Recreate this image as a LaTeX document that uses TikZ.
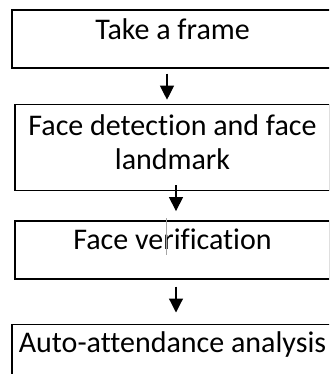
\documentclass[tikz,border=0pt]{standalone}
\usepackage{fontspec}
\setmainfont[Ligatures=NoCommon]{Carlito}
\usetikzlibrary{arrows.meta,positioning}

\begin{document}
\begin{tikzpicture}[
      x=1pt,y=-1pt,
      stagebox/.style={
        rectangle,
        draw,
        line width=1.4pt,
        align=center,
        inner xsep=0pt,
        inner ysep=0pt,
        font=\fontsize{30}{34}\selectfont
      },
      arrow/.style={-{Triangle[width=14pt,length=14pt]},line width=1.2pt},
      caret/.style={line width=0.6pt,gray!70}
    ]
    \useasboundingbox (0,0) rectangle (329,374);
    \clip (0,0) rectangle (329,374);

    % Pipeline stages
    \node[stagebox,minimum width=321pt,text height=30pt,text depth=28pt] (frame) at (172.5,39) {Take a frame};
    \node[stagebox,minimum width=315pt,text height=65pt,text depth=21pt,below=35pt of frame] (detect) {Face detection and face\\landmark};
    \node[stagebox,minimum width=315pt,text height=29pt,text depth=29pt,below=29pt of detect] (verify) {Face verification};
    \node[stagebox,minimum width=321pt,text height=28pt,text depth=30pt,below=44pt of verify] (attend) {Auto-attendance analysis};

    \draw[arrow] ([xshift=-5.5pt,yshift=-5pt]frame.south) -- ([xshift=-5.5pt,yshift=4pt]detect.north);
    \draw[arrow] ([xshift=3.5pt,yshift=6pt]detect.south) -- ([xshift=3.5pt,yshift=9pt]verify.north);
    \draw[arrow] ([xshift=3.5pt,yshift=-7pt]verify.south) -- ([xshift=3.5pt,yshift=11pt]attend.north);

    % text cursor left in the box
    \draw[caret] ([xshift=-6.5pt,yshift=2pt]verify.north) -- ++(0,37);
  \end{tikzpicture}
\end{document}
